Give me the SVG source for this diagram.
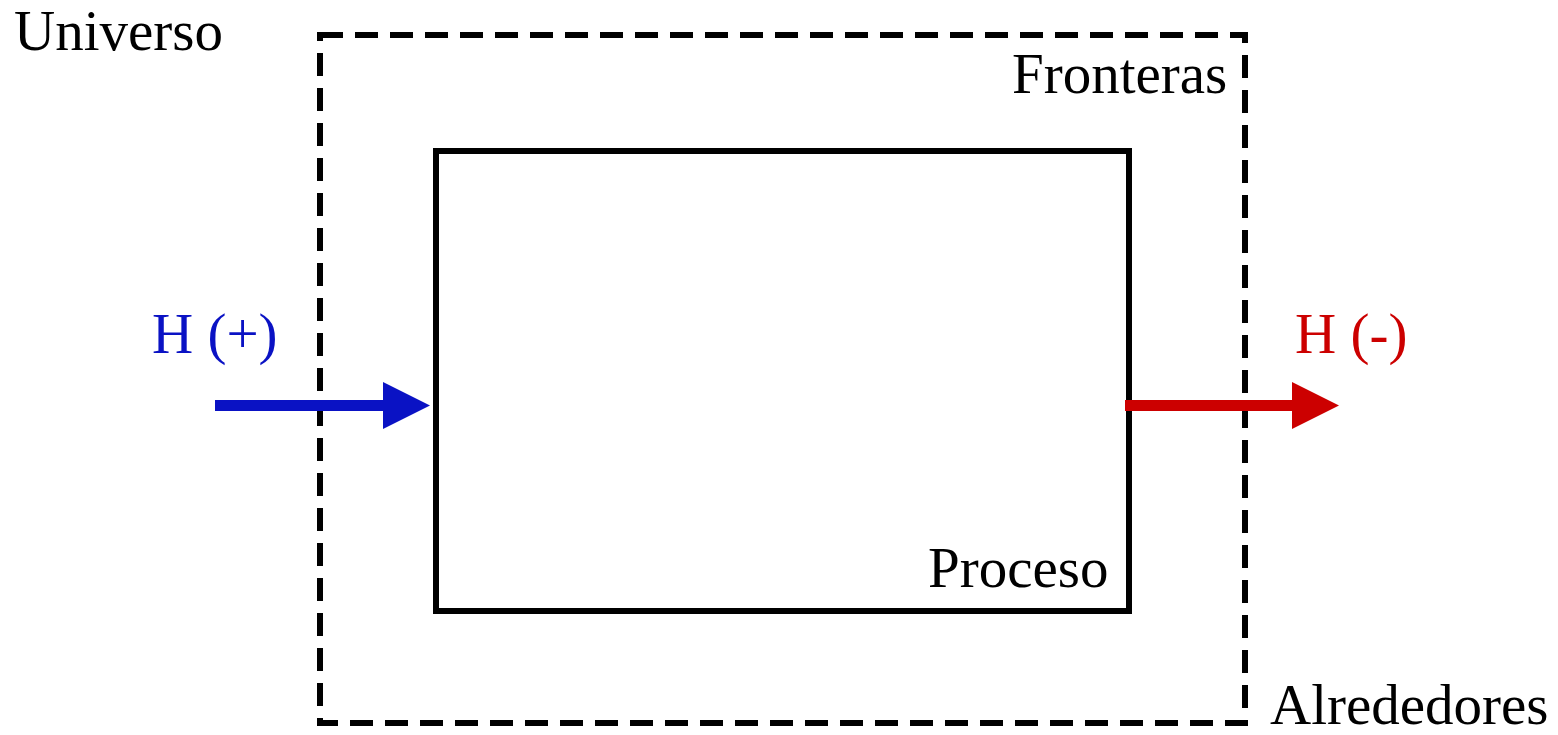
<svg xmlns="http://www.w3.org/2000/svg" width="1558" height="735" viewBox="0 0 1558 735">
<style>
text{font-family:"Liberation Serif","Times New Roman",serif;font-size:57px;fill:#000}
.boundary{fill:none;stroke:#000;stroke-width:6;stroke-dasharray:23 12}
.process{fill:none;stroke:#000;stroke-width:6}
.blue{fill:#0a12c4}
.red{fill:#cc0000}
</style>
<rect width="1558" height="735" fill="#fff"/>
<g id="universo"><text x="14" y="50">Universo</text></g>
<g id="fronteras">
<path class="boundary" d="M320,35 H1245 V723 H320 Z"/>
<text x="1012" y="93">Fronteras</text>
</g>
<g id="proceso">
<rect class="process" x="436" y="151" width="693" height="460"/>
<text x="928" y="587">Proceso</text>
</g>
<g id="alrededores"><text x="1270" y="724">Alrededores</text></g>
<g id="connectors">
<g id="h-in">
<rect class="blue" x="215" y="400" width="172" height="11"/>
<polygon class="blue" points="383,382 430,405.5 383,429"/>
</g>
<g id="h-out">
<rect class="red" x="1125" y="400" width="170" height="11"/>
<polygon class="red" points="1292,382 1339,405.5 1292,429"/>
</g>
</g>
<g id="label-h-plus"><text x="152" y="353" style="fill:#0a12c4">H (+)</text></g>
<g id="label-h-minus"><text x="1295" y="353" style="fill:#cc0000">H (-)</text></g>
</svg>
